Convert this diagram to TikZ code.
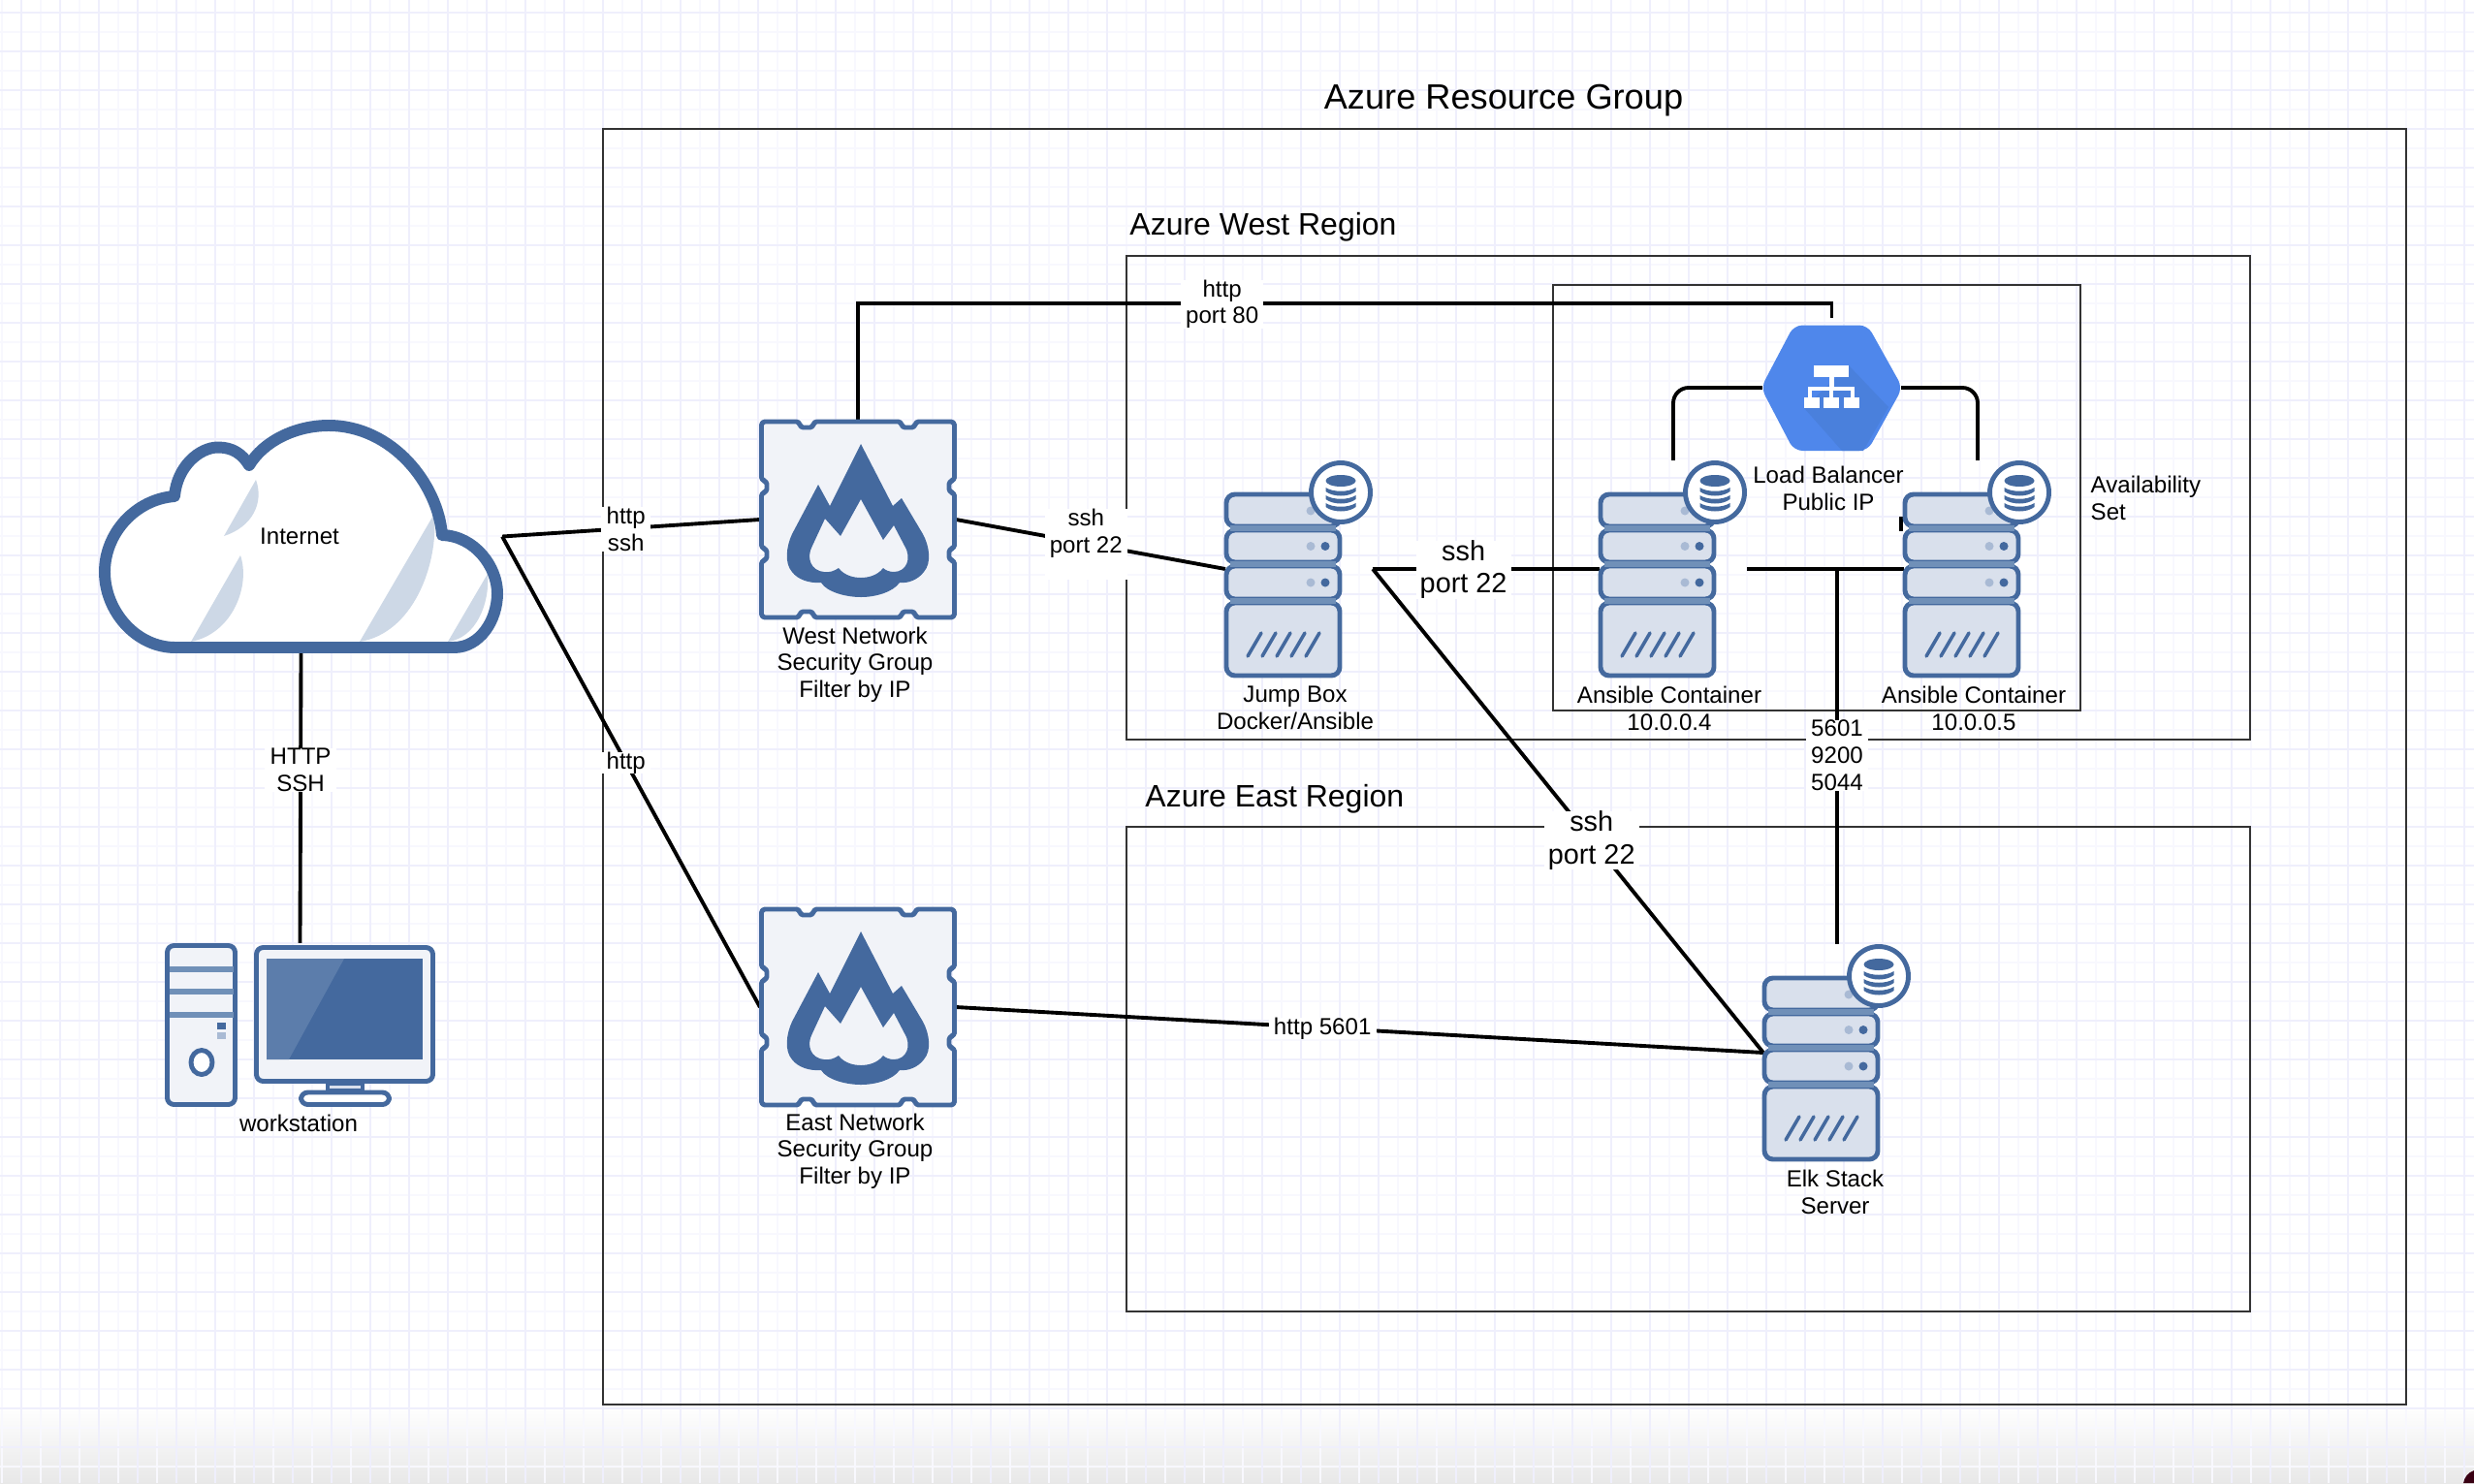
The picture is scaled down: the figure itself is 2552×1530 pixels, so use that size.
\documentclass[tikz,border=0pt]{standalone}
\usepackage{fontspec}
\setmainfont{Liberation Sans}
\usepackage{xcolor}
\definecolor{iconblue}{HTML}{44699E}
\definecolor{iconfill}{HTML}{D9E0EC}
\definecolor{iconpale}{HTML}{F1F3F8}
\definecolor{iconband}{HTML}{7090B8}
\definecolor{dotpale}{HTML}{A9BAD4}
\definecolor{cloudshade}{HTML}{CDD8E6}
\definecolor{slicepale}{HTML}{5C7DAB}
\definecolor{lbblue}{HTML}{4F87EB}
\definecolor{lbdark}{HTML}{4A80DC}
\definecolor{gridmajor}{HTML}{EFEFFC}
\definecolor{gridminor}{HTML}{F8F8FE}
\definecolor{framegrey}{HTML}{333333}
\tikzset{x=.01cm,y=-.01cm,
 iconbox/.style={inner sep=0pt,outer sep=0pt,draw=none},
 serverbox/.style={iconbox,minimum width=1.52cm,minimum height=2.24cm},
 wallbox/.style={iconbox,minimum width=2.02cm,minimum height=2.06cm},
 lbbox/.style={iconbox,minimum width=1.43cm,minimum height=1.44cm},
 cloudbox/.style={iconbox,minimum width=4.15cm,minimum height=2.39cm},
 deskbox/.style={iconbox,minimum width=2.79cm,minimum height=1.69cm},
 frame/.style={draw=framegrey,line width=.65pt},
 link/.style={draw=black,line width=1.1pt},
 tag/.style={align=center,inner sep=0pt,yshift=-.2pt,font=\fontsize{6.85}{7.9}\selectfont},
 linktag/.style={tag,fill=white,inner xsep=1.5pt},
 bigtag/.style={linktag,inner xsep=1.2pt,font=\fontsize{8.2}{9.5}\selectfont},
 icon/.style={draw=iconblue,line width=1.4pt,line join=round},
 band/.style={draw=iconband,line width=1.9pt},
 serverpic/.pic={
  \foreach \rowa/\rowb in {-79/-42,-42/-5,-5/33,33/112}
   \draw[icon,fill=iconfill,rounded corners=2.5pt] (-75,\rowa+2) rectangle (42,\rowb-2);
  \foreach \rowy in {-42,-5,33}
   \draw[band] (-71,\rowy) -- (38,\rowy);
  \foreach \rowy in {-23.5,14} {
   \fill[dotpale] (12,\rowy) circle (4.5);
   \fill[iconblue] (27,\rowy) circle (4.5);
  }
  \fill[dotpale] (12,-60) circle (4.5);
  \foreach \slash in {0,15,30,45,60}
   \draw[draw=iconblue,line width=1pt,line cap=round] (-53+\slash,90) -- (-39+\slash,66);
  \draw[icon,fill=white] (43,-79) circle (30.5);
  \fill[iconblue] (43,-91) ellipse (15.5 and 6);
  \foreach \diskY in {-84,-76,-68}
   \fill[iconblue] (27.5,\diskY) .. controls (35,\diskY+5) and (51,\diskY+5) .. (58.5,\diskY)
    -- (58.5,\diskY+4) .. controls (51,\diskY+10) and (35,\diskY+10) .. (27.5,\diskY+4) -- cycle;
 },
 wallpic/.pic={
  \draw[icon,fill=iconpale,rounded corners=1pt] (-99.5,-101) -- (-60,-101) -- (-60,-95) -- (-46,-95) -- (-46,-101)
   -- (45,-101) -- (45,-95) -- (59,-95) -- (59,-101) -- (99.5,-101)
   -- (99.5,-40) -- (94,-40) -- (94,-28) -- (99.5,-28) -- (99.5,30) -- (94,30) -- (94,42) -- (99.5,42) -- (99.5,101)
   -- (59,101) -- (59,95) -- (45,95) -- (45,101) -- (-46,101) -- (-46,95) -- (-60,95) -- (-60,101) -- (-99.5,101)
   -- (-99.5,42) -- (-94,42) -- (-94,30) -- (-99.5,30) -- (-99.5,-28) -- (-94,-28) -- (-94,-40) -- (-99.5,-40) -- cycle;
  \fill[iconblue,even odd rule] (3,-78) -- (36,-14) -- (45,-22) -- (67,15) .. controls (74,28) and (76,45) .. (68,54)
   .. controls (62,62) and (52,66) .. (43,65) .. controls (36,75) and (18,80) .. (3,80) .. controls (-12,80) and (-32,75) .. (-38,65)
   .. controls (-50,66) and (-62,62) .. (-68,54) .. controls (-76,45) and (-74,28) .. (-68,15) -- (-41,-36) -- (-29,-14) -- cycle
   (3,-21) -- (26,21) -- (37,6) -- (48,27) .. controls (56,40) and (50,54) .. (37,54) .. controls (32,54) and (28,52) .. (26,50)
   .. controls (20,58) and (10,60) .. (3,60) .. controls (-4,60) and (-14,58) .. (-20,50) .. controls (-24,53) and (-30,55) .. (-35,54)
   .. controls (-48,53) and (-54,40) .. (-47,27) -- (-34,-1) -- (-18,17) -- cycle;
 },
 lbpic/.pic={
  \fill[lbblue,rounded corners=2.5pt] (-39,-64.5) -- (37,-64.5) -- (73,0) -- (37,65) -- (-39,65) -- (-73,0) -- cycle;
  \fill[lbdark] (17.5,-23) -- (58.5,20) -- (32.5,65) -- (10.5,65) -- (-28.5,21) -- cycle;
  \fill[white] (-18.5,-23) rectangle (17.5,-11);
  \fill[white] (-3,-11) rectangle (2,1);
  \fill[white] (-24.5,-1) rectangle (23.5,3);
  \foreach \boxx/\stemx in {-28.5/-24.5,-8.5/-2.5,12.5/19.5} {
   \fill[white] (\boxx,10) rectangle +(16,11);
   \fill[white] (\stemx,3) rectangle +(4,7);
  }
 },
 cloudpic/.pic={
  \fill[white] (-129.5,114.5) -- (157.5,114.5) .. controls (184.5,114.5) and (202.5,86.5) .. (202.5,58.5)
   .. controls (202.5,31.5) and (179.5,-.5) .. (145.5,-1.5) .. controls (141.5,-53.5) and (94.5,-114.5) .. (28.5,-114.5)
   .. controls (-5.5,-114.5) and (-38.5,-98.5) .. (-53.5,-73.5) .. controls (-60.5,-85) and (-70.5,-92) .. (-85.5,-92)
   .. controls (-105,-92) and (-128,-72) .. (-130.5,-41.5) .. controls (-170.5,-38.5) and (-202.5,-3.5) .. (-202.5,36.5)
   .. controls (-202.5,76.5) and (-170.5,114.5) .. (-129.5,114.5) -- cycle;
  \fill[cloudshade] (-46.5,-58.5) .. controls (-38,-35) and (-50,-10) .. (-79.5,-.5) -- cycle;
  \fill[cloudshade] (-62.5,19.5) .. controls (-52,50) and (-70,100) .. (-113.5,108.5) -- cycle;
  \fill[cloudshade] (137.5,-23.5) .. controls (142,30) and (115,100) .. (60.5,108.5) -- cycle;
  \fill[cloudshade] (192.5,38.5) .. controls (195,70) and (180,105) .. (151.5,108.5) -- cycle;
  \draw[draw=iconblue,line width=3.4pt,line join=round] (-129.5,114.5) -- (157.5,114.5) .. controls (184.5,114.5) and (202.5,86.5) .. (202.5,58.5)
   .. controls (202.5,31.5) and (179.5,-.5) .. (145.5,-1.5) .. controls (141.5,-53.5) and (94.5,-114.5) .. (28.5,-114.5)
   .. controls (-5.5,-114.5) and (-38.5,-98.5) .. (-53.5,-73.5) .. controls (-60.5,-85) and (-70.5,-92) .. (-85.5,-92)
   .. controls (-105,-92) and (-128,-72) .. (-130.5,-41.5) .. controls (-170.5,-38.5) and (-202.5,-3.5) .. (-202.5,36.5)
   .. controls (-202.5,76.5) and (-170.5,114.5) .. (-129.5,114.5) -- cycle;
 },
 deskpic/.pic={
  \draw[icon,fill=iconpale,rounded corners=2pt] (-137,-82) rectangle (-67,82);
  \foreach \rowy in {-57.5,-34.5,-10.5}
   \draw[band] (-135,\rowy) -- (-69,\rowy);
  \fill[iconblue] (-86,-3) rectangle (-77,4);
  \fill[dotpale] (-86,7) rectangle (-77,14);
  \draw[icon,fill=white] (-101.5,38.5) ellipse (11 and 12.5);
  \draw[icon,fill=iconpale,rounded corners=2pt] (-45,-80) rectangle (137,58);
  \fill[iconblue] (-34.5,-68.5) rectangle (126.5,35.5);
  \fill[slicepale] (-34.5,-68.5) -- (45.5,-68.5) -- (-11.5,35.5) -- (-34.5,35.5) -- cycle;
  \draw[icon,fill=iconfill] (28.5,60.5) rectangle (64.5,67.5);
  \draw[icon,fill=white,rounded corners=2pt] (1,69.5) rectangle (92,82);
 },
}
\begin{document}
\begin{tikzpicture}
    \useasboundingbox (0,0) rectangle (2552,1530);
    \fill[white] (0,0) rectangle (2552,1450);
    \shade[top color=white,bottom color=black!9] (0,1450) rectangle (2552,1530);
    \foreach \gx in {2,42,...,2552}
        \draw[gridminor,line width=.6pt] (\gx,0) -- (\gx,1530);
    \foreach \gy in {33,73,...,1530}
        \draw[gridminor,line width=.6pt] (0,\gy) -- (2552,\gy);
    \foreach \gx in {22,62,...,2552}
        \draw[gridmajor,line width=.6pt] (\gx,0) -- (\gx,1530);
    \foreach \gy in {13,53,...,1530}
        \draw[gridmajor,line width=.6pt] (0,\gy) -- (2552,\gy);
    \fill[black!70!purple] (2552,1517) .. controls (2546,1519) and (2542,1524) .. (2541,1530) -- (2552,1530) -- cycle;

    \draw[frame] (622,133) rectangle (2482,1449);
    \draw[frame] (1162,264) rectangle (2321,763);
    \draw[frame] (1162,853) rectangle (2321,1353);
    \draw[frame] (1602,294) rectangle (2146,733);

    \node[font=\fontsize{10.3}{13}\selectfont] (grouptitle) at (1551,104) {Azure Resource Group};
    \node[font=\fontsize{9.1}{11}\selectfont,anchor=west] (westtitle) at (1153,234) {Azure West Region};
    \node[font=\fontsize{9.1}{11}\selectfont,anchor=west] (easttitle) at (1169,824) {Azure East Region};
    \node[tag,align=left,anchor=west] (settag) at (2156,513) {Availability\\Set};

    \node[cloudbox] (cloud) at (310.5,553.5) {};
    \node[deskbox] (desk) at (309.5,1057.5) {};
    \node[wallbox] (westwall) at (885,536) {};
    \node[wallbox] (eastwall) at (885,1039) {};
    \node[serverbox] (jump) at (1340,587) {};
    \node[serverbox] (ansa) at (1726,587) {};
    \node[serverbox] (ansb) at (2040,587) {};
    \node[serverbox] (elk) at (1895,1086) {};
    \node[lbbox] (lb) at (1889.5,400) {};

    \coordinate (topbend) at (1889.5,313);
    \coordinate (stubtop) at (1961,533);
    \coordinate (stubend) at (1961,548);

    \draw[link] (cloud.south) -- node[linktag,pos=.403] (httptag) {HTTP\\SSH} (desk.north);
    \draw[link] (cloud.east) -- node[linktag,pos=.48] (sshtag) {http\\ssh} (westwall.west);
    \draw[link] (cloud.east) -- node[linktag,pos=.48] (webtag) {http} (eastwall.west);
    \draw[link] (westwall.north) |- node[linktag,pos=.687] (porteighty) {http\\port 80} (topbend) -- (lb.north);
    \draw[link] (westwall.east) -- node[linktag,pos=.483] (walljump) {ssh\\port 22\\\mbox{}} (jump.west);
    \draw[link] (eastwall.east) -- node[linktag,pos=.454] (kibanatag) {http 5601} (elk.west);
    \draw[link] (jump.east) -- node[bigtag,pos=.4] (jumpans) {ssh\\port 22} (ansa.west);
    \draw[link] (jump.east) -- node[bigtag,pos=.56] (jumpelk) {ssh\\port 22} (elk.west);
    \draw[link] (ansa.east) -- (ansb.west);
    \draw[link] (elk.north) -- node[linktag,pos=.505] (elkports) {5601\\9200\\5044} (elk.north |- ansa.east);
    \draw[link,rounded corners=4.5pt] (lb.west) -| (ansa.north);
    \draw[link,rounded corners=4.5pt] (lb.east) -| (ansb.north);
    \draw[link] (stubtop) -- (stubend);

    \pic at (cloud) {cloudpic};
    \pic at (desk) {deskpic};
    \pic at (westwall) {wallpic};
    \pic at (eastwall) {wallpic};
    \pic at (jump) {serverpic};
    \pic at (ansa) {serverpic};
    \pic at (ansb) {serverpic};
    \pic at (elk) {serverpic};
    \pic at (lb) {lbpic};

    \node[tag] (nettag) at (309,553) {Internet};
    \node[tag] (desktag) at (308,1158) {workstation};
    \node[tag] (westtag) at (882,685) {West Network\\Security Group\\Filter by IP};
    \node[tag] (easttag) at (882,1187) {East Network\\Security Group\\Filter by IP};
    \node[tag] (jumptag) at (1336,730) {Jump Box\\Docker/Ansible};
    \node[tag] (ansatag) at (1722,730) {Ansible Container\\10.0.0.4};
    \node[tag] (ansbtag) at (2036,730) {Ansible Container\\10.0.0.5};
    \node[tag] (lbtag) at (1886,503) {Load Balancer\\Public IP};
    \node[tag] (elktag) at (1893,1229) {Elk Stack\\Server};
\end{tikzpicture}
\end{document}
